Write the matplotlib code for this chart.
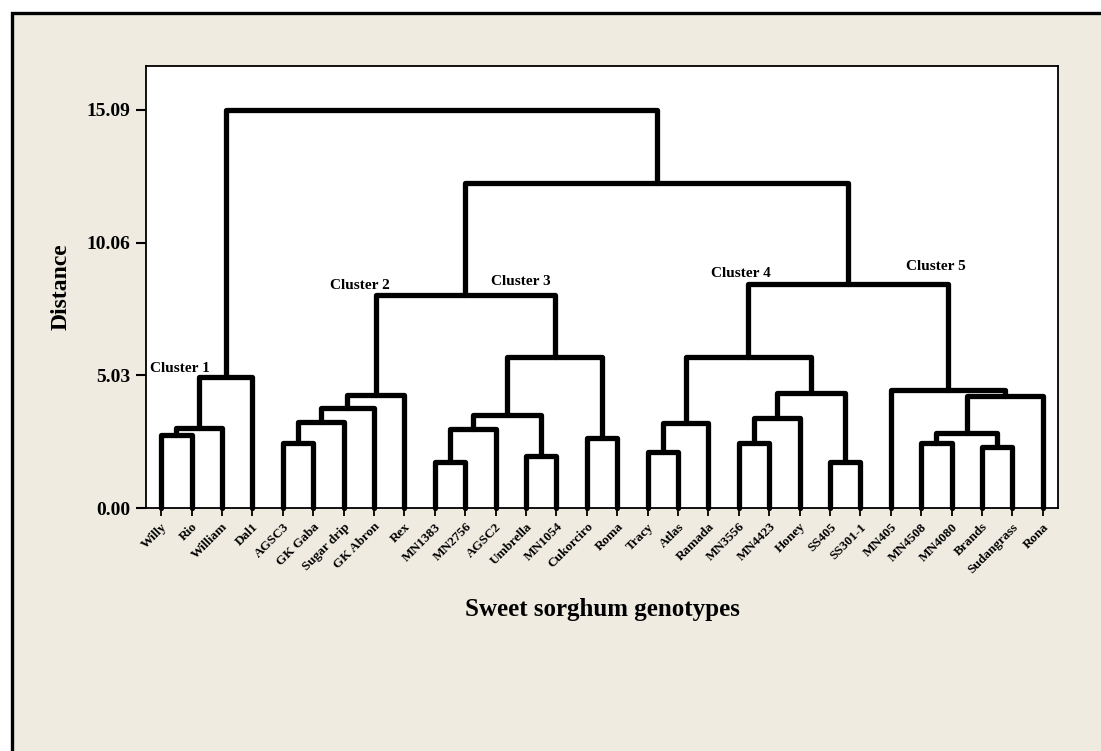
import matplotlib
matplotlib.use("Agg")
import matplotlib.pyplot as plt
from matplotlib.patches import Rectangle

# ---- data ----
genotypes = ["Willy", "Rio", "William", "Dal1", "AGSC3", "GK Gaba", "Sugar drip",
             "GK Abron", "Rex", "MN1383", "MN2756", "AGSC2", "Umbrella", "MN1054",
             "Cukorciro", "Roma", "Tracy", "Atlas", "Ramada", "MN3556", "MN4423",
             "Honey", "SS405", "SS301-1", "MN405", "MN4508", "MN4080", "Brands",
             "Sudangrass", "Rona"]

# merges: node ids 0..29 are leaves, each merge creates node 30, 31, ...
merge_left = [0, 30, 31, 4, 33, 34, 35, 9, 37, 12, 38, 14, 40, 36,
              16, 44, 19, 46, 22, 47, 45, 25, 27, 51, 53, 24, 50, 43, 32]
merge_right = [1, 2, 3, 5, 6, 7, 8, 10, 11, 13, 39, 15, 41, 42,
               17, 18, 20, 21, 23, 48, 49, 26, 28, 52, 29, 54, 55, 56, 57]
merge_height = [2.78, 3.05, 4.98, 2.49, 3.28, 3.81, 4.29, 1.77, 3.00, 1.98, 3.53, 2.65, 5.72, 8.08,
                2.14, 3.22, 2.49, 3.43, 1.77, 4.36, 5.72, 2.49, 2.33, 2.86, 4.25, 4.48, 8.50, 12.32, 15.09]

y_ticks = [0.00, 5.03, 10.06, 15.09]
cluster_labels = ["Cluster 1", "Cluster 2", "Cluster 3", "Cluster 4", "Cluster 5"]
cluster_label_pos = [(-0.38, 5.3), (5.55, 8.45), (10.85, 8.6), (18.1, 8.9), (24.5, 9.15)]

# ---- figure ----
W, H = 1101, 751
fig = plt.figure(figsize=(W / 100, H / 100), dpi=100, facecolor="white")
beige = "#EFEBE0"
bg = Rectangle((11.5 / W, -0.05), 1.2, 1 - 12.5 / H + 0.05,
               transform=fig.transFigure, facecolor=beige,
               edgecolor="black", linewidth=2.4, zorder=-10)
fig.patches.append(bg)

ax = fig.add_axes([146 / W, 1 - 508.3 / H, (1058 - 146) / W, (508.3 - 66) / H])
ax.set_zorder(5)
ax.set_facecolor("white")

serif = ["Liberation Serif", "DejaVu Serif"]

n = len(genotypes)
xpos = {i: float(i) for i in range(n)}
ypos = {i: 0.0 for i in range(n)}
for k, (l, r, h) in enumerate(zip(merge_left, merge_right, merge_height)):
    node = n + k
    xl, xr = xpos[l], xpos[r]
    ax.plot([xl, xl, xr, xr], [ypos[l], h, h, ypos[r]], color="black", lw=3.8,
            solid_capstyle="round", solid_joinstyle="round", clip_on=False, zorder=3)
    xpos[node] = (xl + xr) / 2
    ypos[node] = h

ax.set_xlim(-0.5, n - 0.5)
ax.set_ylim(0, 16.75)

ax.set_yticks(y_ticks)
ax.set_yticklabels([f"{v:.2f}" for v in y_ticks], fontfamily=serif,
                   fontweight="bold", fontsize=14)
ax.set_xticks(range(n))
ax.set_xticklabels(genotypes, rotation=45, ha="right", rotation_mode="anchor",
                   fontfamily=serif, fontweight="bold", fontsize=9.5)
ax.tick_params(axis="y", length=7, width=1.5, direction="out", pad=4)
ax.tick_params(axis="x", length=6, width=1.3, direction="out", pad=3)

for s in ax.spines.values():
    s.set_linewidth(1.3)

ax.set_ylabel("Distance", fontfamily=serif, fontweight="bold", fontsize=17, labelpad=11)
ax.set_xlabel("Sweet sorghum genotypes", fontfamily=serif, fontweight="bold",
              fontsize=18, labelpad=16)

for lab, (lx, ly) in zip(cluster_labels, cluster_label_pos):
    ax.text(lx, ly, lab, fontfamily=serif, fontweight="bold", fontsize=11,
            ha="left", va="center", zorder=4)

fig.savefig("out.png", dpi=100, facecolor=fig.get_facecolor())
